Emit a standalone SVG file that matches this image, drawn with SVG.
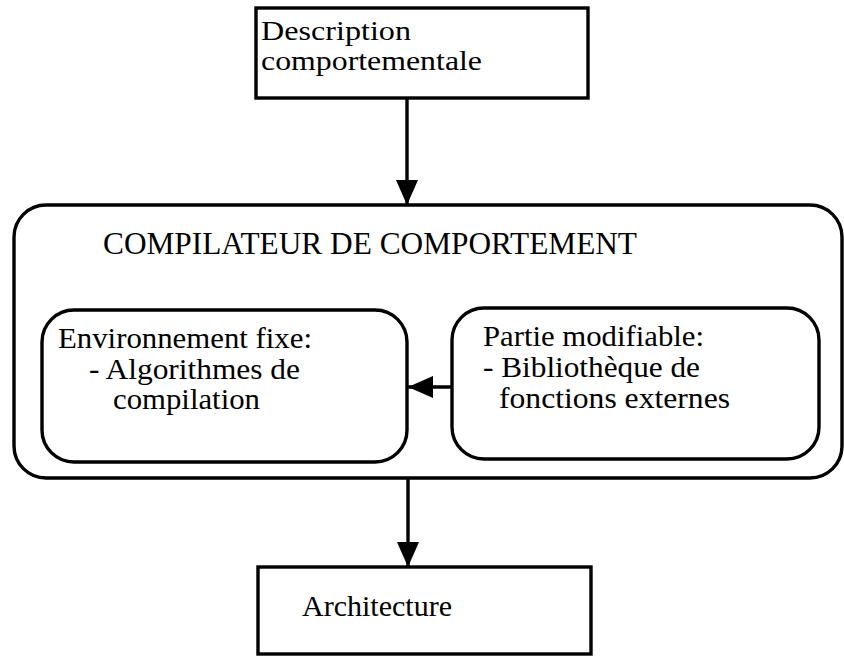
<svg xmlns="http://www.w3.org/2000/svg" width="844" height="657" viewBox="0 0 844 657">
  <defs>
    <marker id="arrow" markerUnits="userSpaceOnUse" markerWidth="26" markerHeight="24" refX="25" refY="11" orient="auto">
      <path d="M0,0 L25,11 L0,22 Z" fill="#000"/>
    </marker>
    <style>
      .box { fill: #fff; stroke: #000; stroke-width: 3.4; }
      .conn { fill: none; stroke: #000; stroke-width: 3.4; marker-end: url(#arrow); }
      text { font-family: "Liberation Serif", "Times New Roman", serif; fill: #000; }
      .t0 { font-size: 27px; }
      .t1 { font-size: 29px; }
      .t2 { font-size: 32px; }
      .t3 { font-size: 30px; }
    </style>
  </defs>
  <rect width="844" height="657" fill="#fff"/>

  <g id="description">
    <rect class="box" x="256" y="8" width="332" height="90"/>
    <text class="t0" x="261" y="40" textLength="150" lengthAdjust="spacingAndGlyphs">Description</text>
    <text class="t0" x="261" y="70" textLength="221" lengthAdjust="spacingAndGlyphs">comportementale</text>
  </g>

  <g id="compilateur">
    <rect class="box" x="14" y="205" width="828" height="273" rx="32" ry="32"/>
    <text class="t2" x="103" y="254" textLength="534" lengthAdjust="spacingAndGlyphs">COMPILATEUR DE COMPORTEMENT</text>
  </g>

  <g id="environnement">
    <rect class="box" x="42" y="310" width="365" height="152" rx="32" ry="32"/>
    <text class="t3" x="58" y="348" textLength="254" lengthAdjust="spacingAndGlyphs">Environnement fixe:</text>
    <text class="t3" x="89" y="379" textLength="211" lengthAdjust="spacingAndGlyphs">- Algorithmes de</text>
    <text class="t3" x="113" y="409" textLength="147" lengthAdjust="spacingAndGlyphs">compilation</text>
  </g>

  <g id="partie">
    <rect class="box" x="452" y="308" width="367" height="151" rx="32" ry="32"/>
    <text class="t3" x="483" y="346" textLength="221" lengthAdjust="spacingAndGlyphs">Partie modifiable:</text>
    <text class="t3" x="483" y="377" textLength="217" lengthAdjust="spacingAndGlyphs">- Bibliothèque de</text>
    <text class="t3" x="499" y="408" textLength="231" lengthAdjust="spacingAndGlyphs">fonctions externes</text>
  </g>

  <g id="architecture">
    <rect class="box" x="258" y="567" width="333" height="87"/>
    <text class="t1" x="302" y="616" textLength="150" lengthAdjust="spacingAndGlyphs">Architecture</text>
  </g>

  <g id="connectors">
    <line class="conn" x1="407" y1="98" x2="407" y2="205"/>
    <line class="conn" x1="452" y1="387" x2="408" y2="387"/>
    <line class="conn" x1="408" y1="478" x2="408" y2="567"/>
  </g>
</svg>
